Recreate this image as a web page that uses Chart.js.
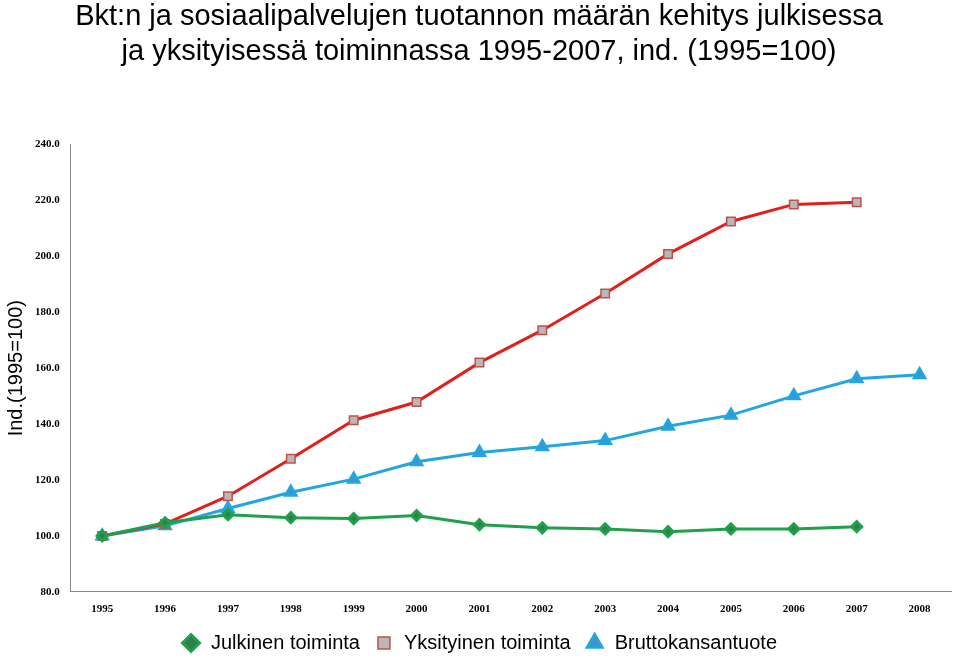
<!DOCTYPE html>
<html><head><meta charset="utf-8">
<script src="https://cdn.jsdelivr.net/npm/chart.js@4"></script>
<style>body{margin:0;background:#fff}#wrap{width:960px;height:663px}</style>
</head><body><div id="wrap"><canvas id="c"></canvas></div>
<script>
var years = ['1995','1996','1997','1998','1999','2000','2001','2002','2003','2004','2005','2006','2007','2008'];
var julkinen = [100, 104.7, 107.6, 106.5, 106.2, 107.3, 104, 102.9, 102.5, 101.5, 102.5, 102.5, 103.3, null];
var yksityinen = [100, 104.3, 114.2, 127.6, 141.4, 147.9, 162, 173.6, 186.7, 200.9, 212.5, 218.6, 219.4, null];
var bkt = [100, 103.6, 109.8, 115.6, 120.3, 126.5, 129.8, 131.9, 134.1, 139.2, 143.2, 150.1, 156.2, 157.7];

new Chart(document.getElementById('c'), {
    type: 'line',
    data: {
        labels: years,
        datasets: [
            {label: 'Julkinen toiminta', data: julkinen, borderColor: '#1fa04a', backgroundColor: '#2e7d4f',
             pointStyle: 'rectRot', pointRadius: 5, borderWidth: 3},
            {label: 'Yksityinen toiminta', data: yksityinen, borderColor: '#e0201b', backgroundColor: '#b8b8b8',
             pointBorderColor: '#c0504d', pointBorderWidth: 1.5, pointStyle: 'rect', pointRadius: 6, borderWidth: 3},
            {label: 'Bruttokansantuote', data: bkt, borderColor: '#22a6e0', backgroundColor: '#4a8fc4',
             pointStyle: 'triangle', pointRadius: 6, borderWidth: 3}
        ]
    },
    options: {
        responsive: true, maintainAspectRatio: false, animation: false,
        layout: {padding: {left: 0, right: 2, top: 0, bottom: 0}},
        plugins: {
            title: {display: true, text: ['Bkt:n ja sosiaalipalvelujen tuotannon määrän kehitys julkisessa',
                     'ja yksityisessä toiminnassa 1995-2007, ind. (1995=100)'],
                    color: '#000', font: {family: 'Liberation Sans', size: 29, weight: 'normal'}, lineHeight: 1.1,
                    padding: {top: 0, bottom: 75}},
            legend: {position: 'bottom', labels: {usePointStyle: true, boxHeight: 12, color: '#000', padding: 14,
                     font: {family: 'Liberation Sans', size: 20}}}
        },
        scales: {
            x: {offset: true, grid: {display: false}, border: {color: '#888'},
                ticks: {color: '#000', font: {family: 'Liberation Serif', size: 11, weight: 'bold'}}},
            y: {min: 80, max: 240, grid: {display: false}, border: {color: '#888'},
                ticks: {stepSize: 20, color: '#000', callback: function(v) { return v.toFixed(1); },
                        font: {family: 'Liberation Serif', size: 11, weight: 'bold'}},
                title: {display: true, text: 'Ind.(1995=100)', color: '#000',
                        font: {family: 'Liberation Sans', size: 20}}}
        }
    }
});
</script></body></html>
